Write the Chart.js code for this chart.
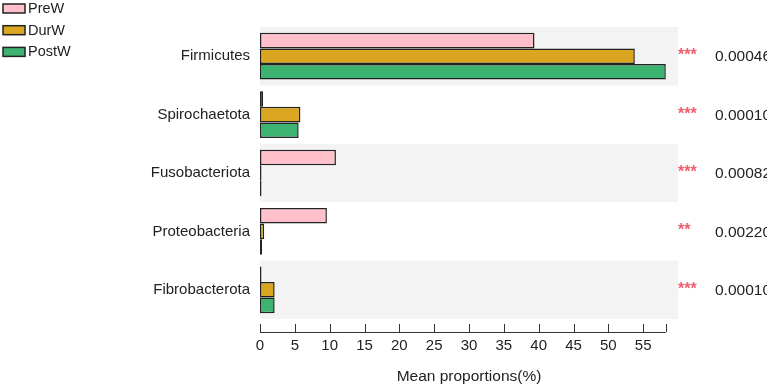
<!DOCTYPE html>
<html>
<head>
<meta charset="utf-8">
<script src="https://cdn.jsdelivr.net/npm/chart.js@4.4.0/dist/chart.umd.min.js"></script>
<style>
  html, body { margin: 0; padding: 0; background: #fff; }
  #wrap { width: 767px; height: 387px; position: relative; }
</style>
</head>
<body>
<div id="wrap"><canvas id="c" width="767" height="387"></canvas></div>
<script>
const categories = ['Firmicutes', 'Spirochaetota', 'Fusobacteriota', 'Proteobacteria', 'Fibrobacterota'];
const preW  = [39.4, 0.45, 10.9, 9.6, 0];
const durW  = [53.8, 5.8, 0, 0.6, 2.1];
const postW = [58.25, 5.55, 0, 0.3, 2.1];
const stars = ['***', '***', '***', '**', '***'];
const pValues = ['0.00046', '0.00010', '0.00082', '0.00220', '0.00010'];
const seriesNames = ['PreW', 'DurW', 'PostW'];
const seriesColors = ['#FFC0CB', '#DAA520', '#3CB371'];

const FONT = 'Arial, "Liberation Sans", sans-serif';
const TEXT = '#222222';
const dataMax = Math.max(...preW, ...durW, ...postW);

const bandsPlugin = {
  id: 'bands',
  beforeDatasetsDraw(chart) {
    const {ctx, chartArea} = chart;
    const y = chart.scales.y;
    const n = categories.length;
    const step = (chartArea.bottom - chartArea.top) / n;
    ctx.save();
    ctx.fillStyle = '#F3F3F3';
    for (let i = 0; i < n; i += 2) {
      const c = y.getPixelForValue(i);
      ctx.fillRect(chartArea.left, c - step / 2, chartArea.right - chartArea.left, step);
    }
    ctx.restore();
  }
};

const decorPlugin = {
  id: 'decor',
  afterDraw(chart) {
    const {ctx, chartArea} = chart;
    const x = chart.scales.x;
    const y = chart.scales.y;
    ctx.save();
    // axis line with upward ticks
    const axisY = chartArea.bottom + 13;
    ctx.strokeStyle = '#333';
    ctx.lineWidth = 1;
    ctx.beginPath();
    ctx.moveTo(x.getPixelForValue(0), axisY + 0.5);
    ctx.lineTo(x.getPixelForValue(dataMax), axisY + 0.5);
    x.ticks.forEach(t => {
      const px = Math.round(x.getPixelForValue(t.value)) + 0.5;
      ctx.moveTo(px, axisY);
      ctx.lineTo(px, axisY - 8);
    });
    const endX = Math.round(x.getPixelForValue(dataMax)) + 0.5;
    ctx.moveTo(endX, axisY);
    ctx.lineTo(endX, axisY - 8);
    ctx.stroke();

    // stars and p-values
    categories.forEach((c, i) => {
      const cy = y.getPixelForValue(i);
      ctx.fillStyle = '#EE5E6B';
      ctx.font = 'bold 16px ' + FONT;
      ctx.textAlign = 'left';
      ctx.textBaseline = 'alphabetic';
      ctx.fillText(stars[i], chartArea.right, cy + 4);
      ctx.fillStyle = TEXT;
      ctx.font = '15.5px ' + FONT;
      ctx.textBaseline = 'middle';
      ctx.fillText(pValues[i], chartArea.right + 37, cy + 1);
    });

    // legend
    chart.data.datasets.forEach((ds, i) => {
      const ly = 4 + 21.7 * i;
      ctx.fillStyle = ds.backgroundColor;
      ctx.fillRect(3, ly, 22, 9);
      ctx.strokeStyle = '#222';
      ctx.lineWidth = 1.5;
      ctx.strokeRect(3, ly, 22, 9);
      ctx.fillStyle = TEXT;
      ctx.font = '14.5px ' + FONT;
      ctx.textAlign = 'left';
      ctx.textBaseline = 'middle';
      ctx.fillText(ds.label, 28, ly + 5);
    });
    ctx.restore();
  }
};

const datasets = [preW, durW, postW].map((d, i) => ({
  label: seriesNames[i],
  data: d,
  backgroundColor: seriesColors[i],
  borderColor: '#222',
  borderWidth: 1.5,
  borderSkipped: false,
  minBarLength: 1.5,
  categoryPercentage: 0.8,
  barPercentage: 1.0
}));

new Chart(document.getElementById('c'), {
  type: 'bar',
  data: { labels: categories, datasets },
  plugins: [bandsPlugin, decorPlugin],
  options: {
    indexAxis: 'y',
    responsive: false,
    animation: false,
    devicePixelRatio: 1,
    layout: { padding: { left: 0, right: 89, top: 27, bottom: 0 } },
    plugins: { legend: { display: false }, tooltip: { enabled: false } },
    scales: {
      x: {
        min: 0,
        max: 60,
        grid: { display: false, drawTicks: false },
        border: { display: false },
        ticks: { stepSize: 5, color: TEXT, font: { size: 15, family: FONT }, padding: 18, maxRotation: 0 },
        afterBuildTicks: s => { s.ticks = s.ticks.filter(t => t.value <= dataMax); },
        afterFit: s => { s.height = 68; },
        title: { display: true, text: 'Mean proportions(%)', color: TEXT, font: { size: 15.5, family: FONT }, padding: { top: 4, bottom: 1 } }
      },
      y: {
        grid: { display: false, drawTicks: false },
        border: { display: false },
        ticks: { color: TEXT, font: { size: 15, family: FONT }, padding: 10 },
        afterFit: s => { s.width = 260; }
      }
    }
  }
});
</script>
</body>
</html>
